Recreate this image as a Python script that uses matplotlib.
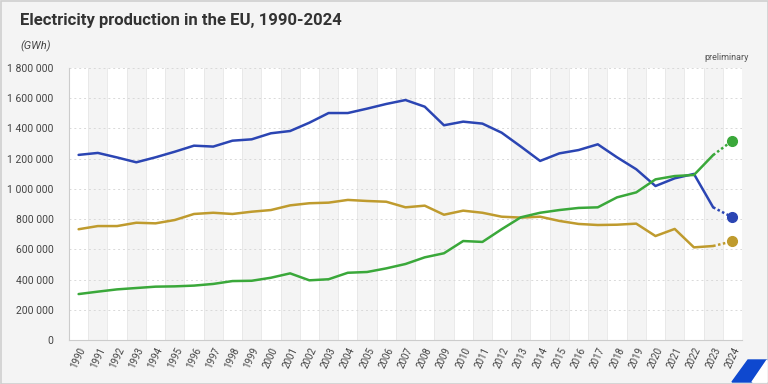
import numpy as np
import matplotlib.pyplot as plt
from matplotlib.patches import Polygon, Rectangle
from matplotlib.ticker import FuncFormatter

plt.rcParams['font.family'] = ['Roboto', 'DejaVu Sans']

# data (GWh)
years = list(range(1990, 2025))
fossil = [1225000, 1238000, 1208000, 1176000, 1209000, 1246000, 1286000, 1280000, 1319000, 1328000,
          1368000, 1383000, 1438000, 1502000, 1502000, 1531000, 1562000, 1588000, 1544000, 1421000,
          1445000, 1432000, 1372000, 1280000, 1185000, 1235000, 1257000, 1295000, 1209000, 1130000,
          1019000, 1070000, 1099000, 878000, 812000]
nuclear = [733000, 754000, 754000, 776000, 772000, 794000, 834000, 842000, 834000, 849000,
           860000, 891000, 905000, 909000, 927000, 920000, 915000, 878000, 889000, 829000,
           856000, 842000, 816000, 810000, 816000, 788000, 768000, 761000, 763000, 770000,
           688000, 735000, 613000, 622000, 653000]
renew = [304000, 320000, 335000, 344000, 353000, 355000, 360000, 371000, 390000, 392000,
         412000, 441000, 395000, 402000, 445000, 450000, 474000, 503000, 547000, 574000,
         655000, 649000, 733000, 812000, 842000, 860000, 874000, 878000, 944000, 977000,
         1063000, 1085000, 1092000, 1224000, 1319000]

blue = '#2b45b3'
gold = '#bf9b2e'
green = '#3aa83a'

fig = plt.figure(figsize=(7.68, 3.84), dpi=100, facecolor='#f4f4f4')
ax = fig.add_axes([69/768, 1-340/384, (742-69)/768, (340-68)/384])
ax.set_facecolor('white')

x = np.arange(len(years))
# alternating column bands
for i in x:
    if i % 2 == 1:
        ax.axvspan(i-0.5, i+0.5, color='#f4f4f4', lw=0, zorder=0)
    ax.axvline(i+0.5, color='#e6e6e6', lw=0.6, zorder=0.5)

for vals, c in [(fossil, blue), (nuclear, gold), (renew, green)]:
    ax.plot(x[:-1], vals[:-1], color=c, lw=1.8, zorder=3, solid_capstyle='round')
    ax.plot(x[-2:], vals[-2:], color=c, lw=1.8, ls=(0, (1, 1)), zorder=3)
    ax.plot(x[-1], vals[-1], 'o', color=c, ms=7, zorder=4)

ax.set_xlim(-0.5, len(years)-0.5)
ax.set_ylim(0, 1800000)
ax.set_yticks(np.arange(0, 1800001, 200000))
ax.yaxis.set_major_formatter(FuncFormatter(lambda v, p: f'{int(v):,}'.replace(',', ' ')))
ax.set_xticks(x)
ax.set_xticklabels([str(y) for y in years], rotation=65, ha='right', rotation_mode='anchor',
                   fontsize=7, color='#444444')
ax.tick_params(axis='y', length=0, labelsize=7.5, labelcolor='#444444', pad=11)
ax.tick_params(axis='x', length=0, pad=4)
ax.grid(axis='y', color='#d9d9d9', ls=(0, (2, 3)), lw=0.7)
ax.set_axisbelow(True)
for s in ['top', 'right']:
    ax.spines[s].set_visible(False)
for s in ['left', 'bottom']:
    ax.spines[s].set_color('#cccccc')
    ax.spines[s].set_linewidth(0.8)

fig.text(20/768, 1-21/384, 'Electricity production in the EU, 1990-2024', fontsize=12,
         fontweight='bold', color='#333333', va='center')
fig.text(20/768, 1-46/384, '(GWh)', fontsize=8, style='italic', color='#444444', va='center')
fig.text(749/768, 1-58/384, 'preliminary', fontsize=6.5, color='#555555', va='center', ha='right')

# outer frame and corner logo shape
fig.patches.append(Rectangle((0.5/768, 0.5/384), 767/768, 383/384, transform=fig.transFigure,
                             fill=False, edgecolor='#cfcfcf', lw=1.2))
fig.patches.append(Polygon([[732/768, 2/384], [748/768, 24/384], [767/768, 24/384], [752/768, 2/384]],
                           closed=True, transform=fig.transFigure, color='#0e48cf', zorder=5))
fig.patches.append(Polygon([[752/768, 2/384], [767/768, 24/384], [767/768, 2/384]],
                           closed=True, transform=fig.transFigure, color='white', zorder=5))

fig.savefig('out.png', dpi=100, facecolor=fig.get_facecolor())
